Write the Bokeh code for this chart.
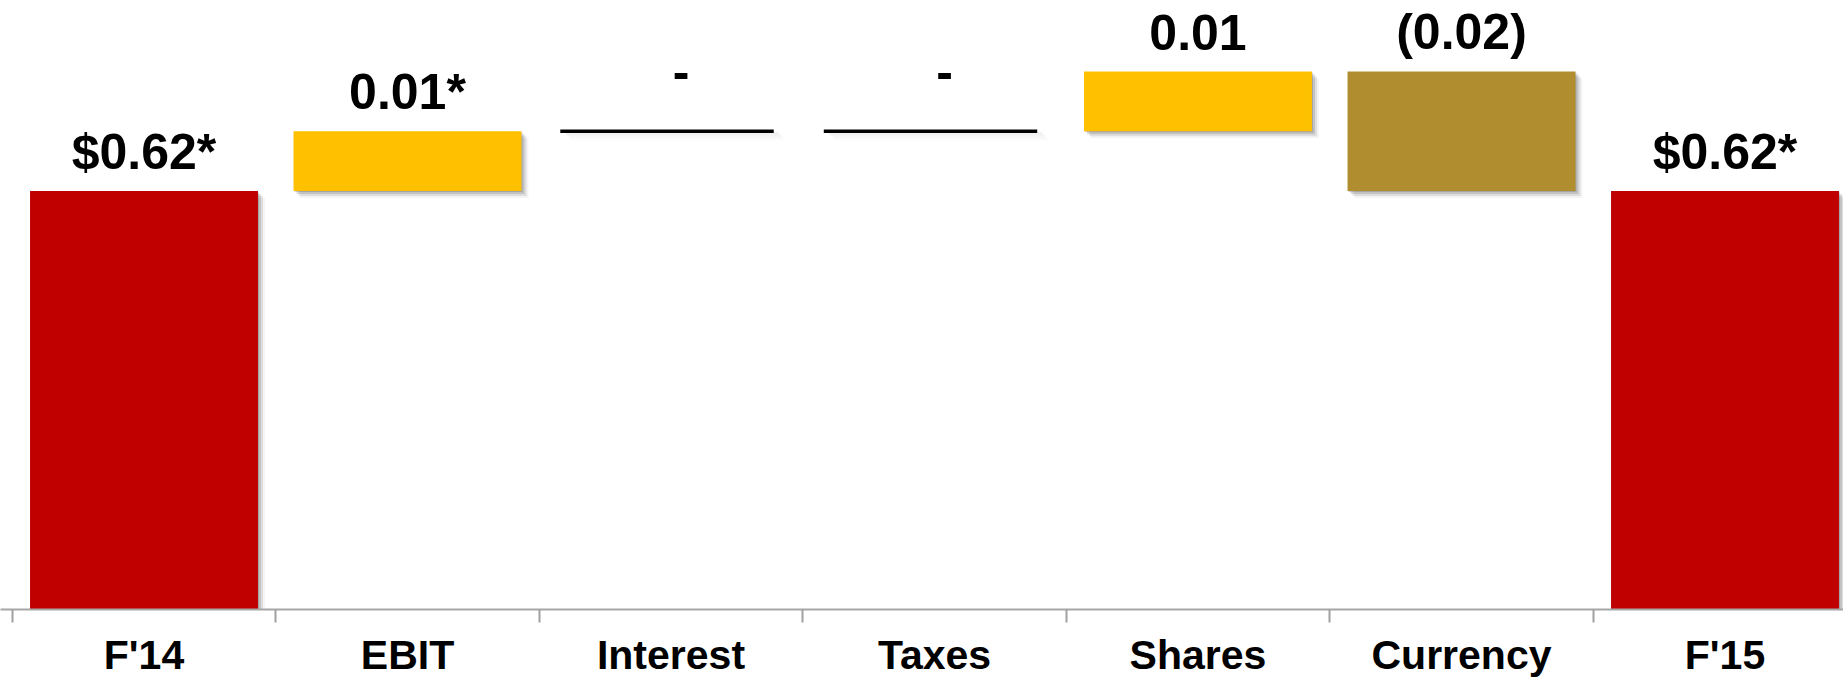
from bokeh.plotting import figure
from bokeh.models import Range1d, FixedTicker
from bokeh.core.properties import value
from bokeh.embed import file_html
from bokeh.resources import INLINE

# EPS bridge, F'14 to F'15 (dollars per share)
categories = ["F'14", "EBIT", "Interest", "Taxes", "Shares", "Currency", "F'15"]
amounts = [0.62, 0.01, 0.00, 0.00, 0.01, -0.02, 0.62]
is_total = [True, False, False, False, False, False, True]
value_labels = ["$0.62*", "0.01*", "-", "-", "0.01", "(0.02)", "$0.62*"]

# colours
RED = "#C00000"
GOLD = "#FFC000"
BRONZE = "#B08E2F"

W, H = 1843, 680
FRAME_H = 609
Y_START = 0.55
PX_PER_UNIT_Y = 5978.0
CAT_PX = 263.5
X_START = -11.75 / CAT_PX

# waterfall geometry
bottoms, tops, colors = [], [], []
running = 0.0
for amt, tot in zip(amounts, is_total):
    if tot:
        b, t = 0.0, amt
        running = amt
        colors.append(RED)
    else:
        b, t = running, running + amt
        running = t
        colors.append(GOLD if amt >= 0 else BRONZE)
    bottoms.append(b)
    tops.append(t)

centers = [i + 0.5 for i in range(len(categories))]
boundaries = list(range(len(categories) + 1))

p = figure(
    width=W, height=H,
    x_range=Range1d(X_START, X_START + W / CAT_PX),
    y_range=Range1d(Y_START, Y_START + FRAME_H / PX_PER_UNIT_Y),
    output_backend="svg", toolbar_location=None, tools="",
    y_axis_location=None,
    min_border_left=0, min_border_right=0, min_border_top=0,
    min_border_bottom=H - FRAME_H,
)
p.outline_line_color = None
p.xgrid.visible = False
p.ygrid.visible = False
p.background_fill_color = "white"
p.border_fill_color = "white"

BAR_W = 0.865
STEP_LINE_W = 0.81
dx = 1.0 / CAT_PX
dy = 1.0 / PX_PER_UNIT_Y

bar_idx = [i for i, a in enumerate(amounts) if is_total[i] or a != 0]
flat_idx = [i for i, a in enumerate(amounts) if not is_total[i] and a == 0]

# soft drop shadows behind the bars
for off, alpha in [(1, 0.22), (3, 0.18), (5, 0.12), (7, 0.06)]:
    p.quad(
        left=[centers[i] - BAR_W / 2 + off * dx for i in bar_idx],
        right=[centers[i] + BAR_W / 2 + off * dx for i in bar_idx],
        bottom=[min(bottoms[i], tops[i]) - off * dy for i in bar_idx],
        top=[max(bottoms[i], tops[i]) - off * dy for i in bar_idx],
        fill_color="#404040", fill_alpha=alpha, line_color=None,
    )
    p.quad(
        left=[centers[i] - STEP_LINE_W / 2 + off * dx for i in flat_idx],
        right=[centers[i] + STEP_LINE_W / 2 + off * dx for i in flat_idx],
        bottom=[tops[i] - (off + 2) * dy for i in flat_idx],
        top=[tops[i] - off * dy for i in flat_idx],
        fill_color="#404040", fill_alpha=alpha * 0.35, line_color=None,
    )

# bars
p.vbar(
    x=[centers[i] for i in bar_idx], width=BAR_W,
    bottom=[bottoms[i] for i in bar_idx], top=[tops[i] for i in bar_idx],
    fill_color=[colors[i] for i in bar_idx], line_color=None,
)

# unchanged steps drawn as a flat line at the running total
p.segment(
    x0=[centers[i] - STEP_LINE_W / 2 - 4 * dx for i in flat_idx],
    x1=[centers[i] + STEP_LINE_W / 2 - 4 * dx for i in flat_idx],
    y0=[tops[i] for i in flat_idx], y1=[tops[i] for i in flat_idx],
    line_color="black", line_width=3.5,
)

# value labels above each step (lift given in pixels)
label_y, label_x = [], []
for i in range(len(amounts)):
    flat = (not is_total[i]) and amounts[i] == 0
    lift = 60 if flat else 39
    label_y.append(max(bottoms[i], tops[i]) + lift * dy)
    label_x.append(centers[i] + (10 * dx if flat else 0.0))
p.text(
    x=label_x, y=label_y, text=value_labels,
    text_align="center", text_baseline="alphabetic",
    text_font=value("Liberation Sans"), text_font_style="bold",
    text_font_size="50px", text_color="black",
)

# category axis: labels at centres, separator ticks between categories
ax = p.xaxis[0]
ax.ticker = FixedTicker(ticks=centers, minor_ticks=boundaries)
ax.major_label_overrides = {c: name for c, name in zip(centers, categories)}
ax.major_tick_in = 0
ax.major_tick_out = 0
ax.minor_tick_in = 0
ax.minor_tick_out = 13
ax.minor_tick_line_color = "#A0A0A0"
ax.minor_tick_line_width = 2
ax.axis_line_color = "#A6A6A6"
ax.axis_line_width = 2
ax.major_label_standoff = 9
ax.major_label_text_font = "Liberation Sans"
ax.major_label_text_font_style = "bold"
ax.major_label_text_font_size = "41px"
ax.major_label_text_color = "black"

open("out.html", "w").write(file_html(p, INLINE))
